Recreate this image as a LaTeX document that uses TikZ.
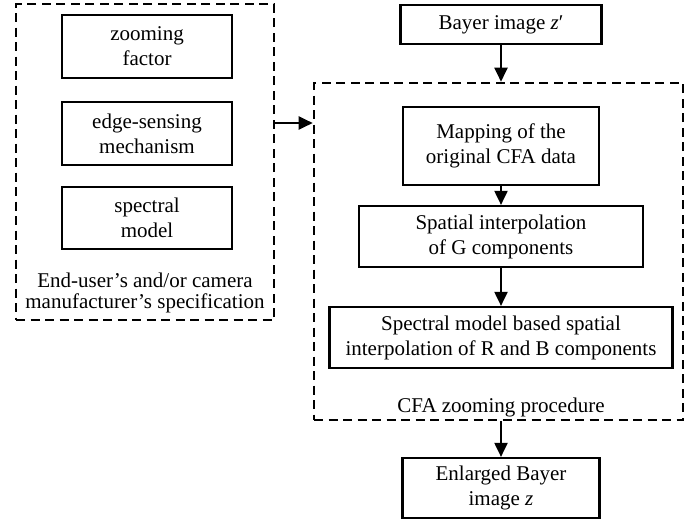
\documentclass[tikz,border=0pt]{standalone}
\usepackage{fontspec}
\setmainfont{Liberation Serif}[Ligatures=TeX]
\usetikzlibrary{arrows.meta}

\tikzset{
  txt/.style={font=\rmfamily\fontsize{21}{25}\selectfont},
  block/.style={txt, draw, line width=2.2pt, align=center, inner sep=0pt},
  dashbox/.style={draw, line width=2.6pt, dash pattern=on 9pt off 5.5pt, inner sep=0pt},
  arr/.style={line width=2pt, -{Triangle[length=14pt,width=13pt]}}
}

\begin{document}
\begin{tikzpicture}[x=1pt, y=-1pt]
  \useasboundingbox (0,0) rectangle (700,520);

  % user / manufacturer specification group
  \node[dashbox, minimum width=258pt, minimum height=316pt] (user) at (145,162) {};
  \node[block, minimum width=170pt, minimum height=63pt] (zf) at (147,46.5) {zooming\\factor};
  \node[block, minimum width=170pt, minimum height=63pt] (es) at (147,133.5) {edge-sensing\\mechanism};
  \node[block, minimum width=170pt, minimum height=62pt] (sm) at (147,218) {spectral\\model};
  \node[txt, anchor=base] (ucap1) at (145,287) {End-user’s and/or camera};
  \node[txt, anchor=base] (ucap2) at (145,308.5) {manufacturer’s specification};

  % CFA zooming procedure group
  \node[block, minimum width=201pt, minimum height=39pt] (bayer) at (501,24.5) {Bayer image \textit{z}′};
  \node[dashbox, minimum width=369pt, minimum height=337pt] (proc) at (498.5,251.5) {};
  \node[block, minimum width=196pt, minimum height=78pt] (map) at (501,146) {Mapping of the\\original CFA data};
  \node[block, minimum width=284pt, minimum height=61pt] (spat) at (501,236.5) {Spatial interpolation\\of G components};
  \node[block, minimum width=343pt, minimum height=61pt] (specm) at (501,337.5) {Spectral model based spatial\\interpolation of R and B components};
  \node[txt, anchor=base] (pcap) at (501,412.5) {CFA zooming procedure};
  \node[block, minimum width=197pt, minimum height=60pt] (enl) at (501,488) {Enlarged Bayer\\image \textit{z}};

  % connectors
  \coordinate (link) at (0,123);
  \draw[arr] (user.east |- link) -- (proc.west |- link);
  \draw[arr] (bayer.south) -- (bayer.south |- proc.north);
  \draw[arr] (map.south) -- (spat.north);
  \draw[arr] (spat.south) -- (specm.north);
  \draw[arr] (proc.south -| enl.north) -- (enl.north);
\end{tikzpicture}
\end{document}
